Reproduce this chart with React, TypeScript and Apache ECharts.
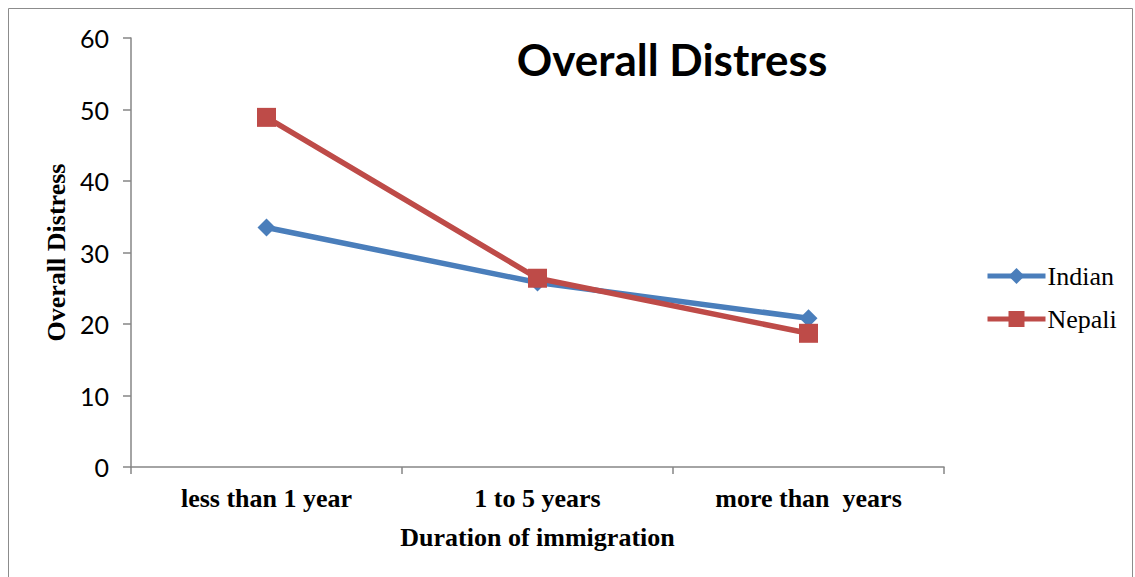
import React, { useEffect, useRef } from "react";
import * as echarts from "echarts";

const categories = ["less than 1 year", "1 to 5 years", "more than  years"];
const indian = [33.5, 25.8, 20.8];
const nepali = [48.9, 26.4, 18.7];
const yTicks = { min: 0, max: 60, interval: 10 };

export default function App() {
  const ref = useRef<HTMLDivElement>(null);
  useEffect(() => {
    if (!ref.current) return;
    const chart = echarts.init(ref.current, null, { renderer: "svg" });
    chart.setOption({
      animation: false,
      backgroundColor: "#ffffff",
      title: {
        text: "Overall Distress",
        left: 667,
        top: 32,
        textAlign: "center",
        textStyle: { fontFamily: "Lato", fontWeight: "bold", fontSize: 44, color: "#000" },
      },
      graphic: [
        {
          type: "rect",
          shape: { x: 8.5, y: 8.5, width: 1124, height: 600 },
          style: { fill: "none", stroke: "#8c8c8c", lineWidth: 1 },
          silent: true,
        },
      ],
      legend: {
        orient: "vertical",
        left: 980,
        top: 258,
        itemWidth: 58,
        itemHeight: 20,
        itemGap: 17,
        lineStyle: { width: 5 },
        textStyle: { fontFamily: "Liberation Serif", fontSize: 26, color: "#000", padding: [0, 0, 0, -3] },
        data: ["Indian", "Nepali"],
      },
      grid: { left: 131, top: 38, width: 813, height: 429, containLabel: false },
      xAxis: {
        type: "category",
        data: categories,
        boundaryGap: true,
        name: "Duration of immigration",
        nameLocation: "middle",
        nameGap: 57,
        nameTextStyle: { fontFamily: "Liberation Serif", fontWeight: "bold", fontSize: 26, color: "#000" },
        axisLine: { lineStyle: { color: "#868686", width: 1.5 } },
        axisTick: { show: true, alignWithLabel: false, length: 7, lineStyle: { color: "#868686", width: 1.5 } },
        axisLabel: { fontFamily: "Liberation Serif", fontWeight: "bold", fontSize: 26, color: "#000", margin: 18 },
        splitLine: { show: false },
      },
      yAxis: {
        type: "value",
        min: yTicks.min,
        max: yTicks.max,
        interval: yTicks.interval,
        name: "Overall Distress",
        nameLocation: "middle",
        nameGap: 58,
        nameRotate: 90,
        nameTextStyle: { fontFamily: "Liberation Serif", fontWeight: "bold", fontSize: 26, color: "#000" },
        axisLine: { show: true, lineStyle: { color: "#868686", width: 1.5 } },
        axisTick: { show: true, length: 8, lineStyle: { color: "#868686", width: 1.5 } },
        axisLabel: { fontFamily: "Lato", fontSize: 25, color: "#000", margin: 22 },
        splitLine: { show: false },
      },
      series: [
        {
          name: "Indian",
          type: "line",
          data: indian,
          symbol: "diamond",
          symbolSize: 18,
          lineStyle: { color: "#4A7EBB", width: 5.5 },
          itemStyle: { color: "#4A7EBB" },
        },
        {
          name: "Nepali",
          type: "line",
          data: nepali,
          symbol: "rect",
          symbolSize: 19,
          lineStyle: { color: "#BE4B48", width: 5.5 },
          itemStyle: { color: "#BE4B48" },
        },
      ],
    });
    return () => chart.dispose();
  }, []);
  return (
    <div
      ref={ref}
      style={{ position: "fixed", left: 0, top: 0, width: 1135, height: 577 }}
    />
  );
}
